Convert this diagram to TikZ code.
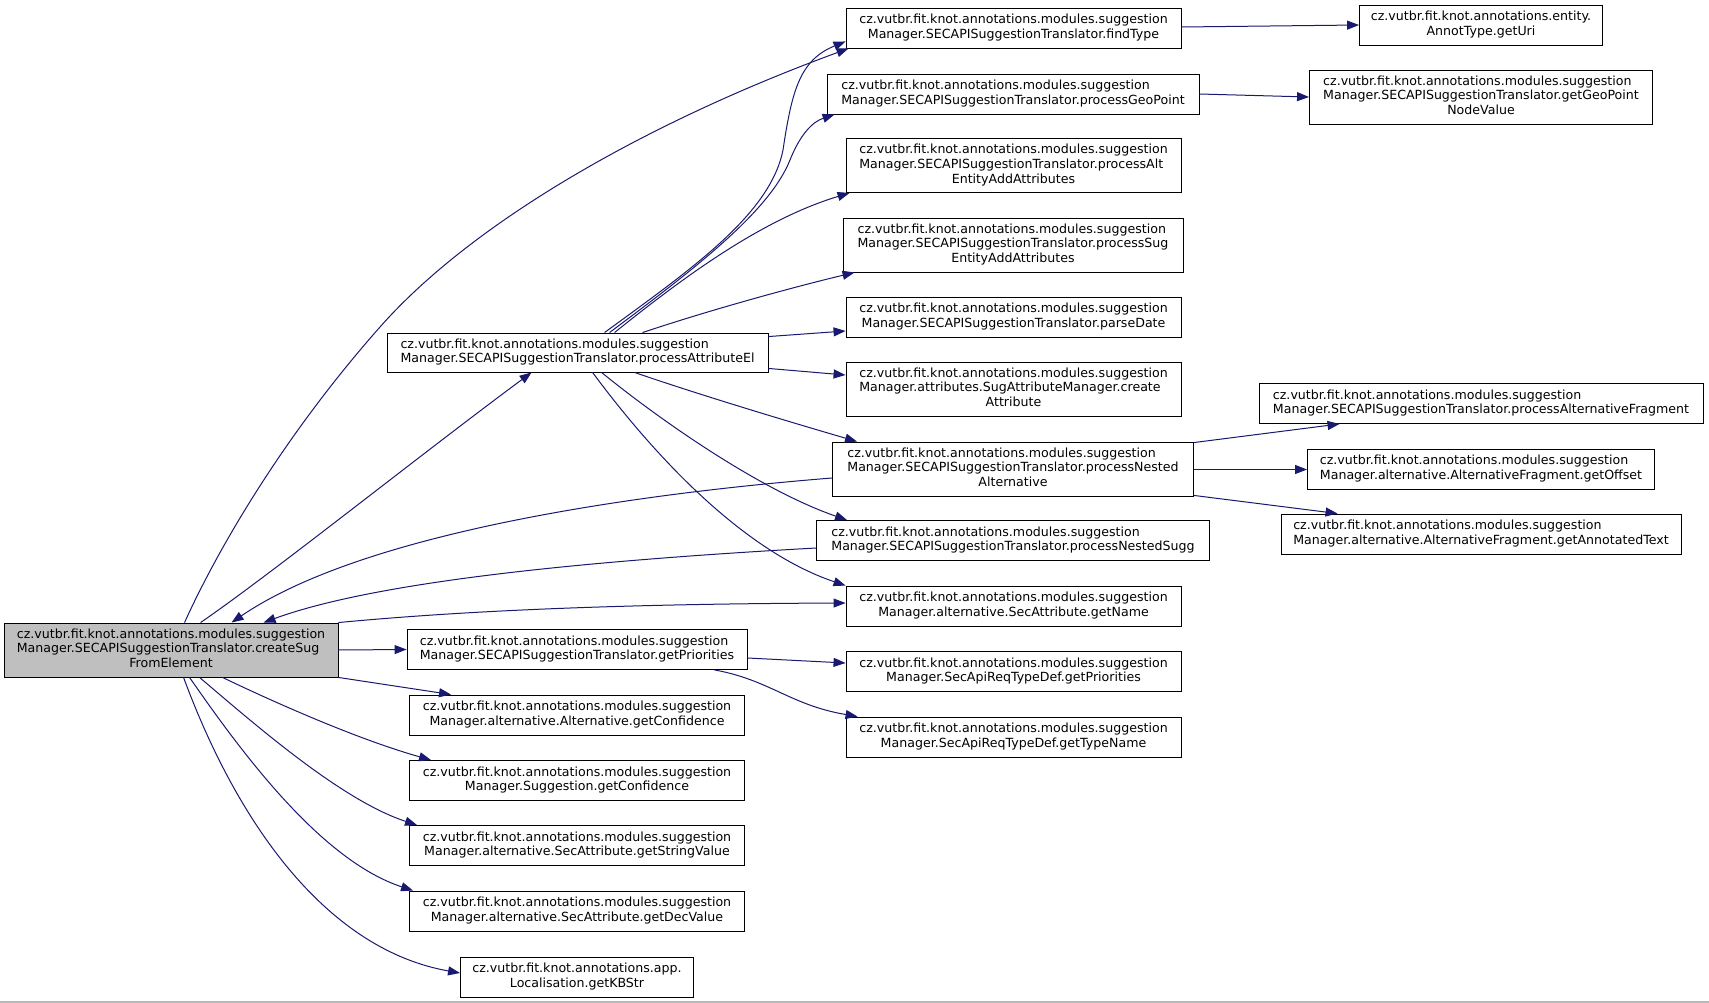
\documentclass[tikz,border=0pt]{standalone}
\usepackage{fontspec}
\setmainfont{DejaVu Sans}
\usetikzlibrary{arrows.meta,calc}
\definecolor{edgec}{HTML}{191970}
\definecolor{fillc}{HTML}{BFBFBF}
\newcommand\twol[2]{\begin{tabular}{@{}l@{}}#1\\\multicolumn{1}{@{}c@{}}{#2}\end{tabular}}
\newcommand\threel[3]{\begin{tabular}{@{}l@{}}#1\\#2\\\multicolumn{1}{@{}c@{}}{#3}\end{tabular}}
\newcommand\czs{cz.vutbr.fit.knot.annotations.modules.suggestion}
\tikzset{
  box/.style={draw=black, line width=0.9pt, fill=white, inner sep=0pt, text=black,
    font=\fontsize{12.6}{14.6}\selectfont},
  edge/.style={draw=edgec, line width=1pt, -{Triangle[length=12pt,width=9pt]}}
}
\begin{document}
\begin{tikzpicture}[x=1pt,y=-1pt]
\useasboundingbox (0,0) rectangle (1709,1003);
\fill[white] (0,0) rectangle (1709,1003);
\fill[gray!55] (0,1000.5) rectangle (1709,1003);

% column 1
\node[box, fill=fillc, minimum width=334pt, minimum height=54pt] (cs) at (171,650)
  {\threel{\czs}{Manager.SECAPISuggestionTranslator.createSug}{FromElement}};

% column 2
\node[box, minimum width=381pt, minimum height=39pt] (pae) at (577.5,352.5)
  {\twol{\czs}{Manager.SECAPISuggestionTranslator.processAttributeEl}};
\node[box, minimum width=340pt, minimum height=40pt] (gp) at (577,649.5)
  {\twol{\czs}{Manager.SECAPISuggestionTranslator.getPriorities}};
\node[box, minimum width=335pt, minimum height=40pt] (ac) at (577,715)
  {\twol{\czs}{Manager.alternative.Alternative.getConfidence}};
\node[box, minimum width=335pt, minimum height=40pt] (sc) at (577,780.5)
  {\twol{\czs}{Manager.Suggestion.getConfidence}};
\node[box, minimum width=335pt, minimum height=40pt] (sv) at (577,845.5)
  {\twol{\czs}{Manager.alternative.SecAttribute.getStringValue}};
\node[box, minimum width=335pt, minimum height=40pt] (dv) at (577,911)
  {\twol{\czs}{Manager.alternative.SecAttribute.getDecValue}};
\node[box, minimum width=233pt, minimum height=40pt] (kb) at (577,977)
  {\twol{cz.vutbr.fit.knot.annotations.app.}{Localisation.getKBStr}};

% column 3
\node[box, minimum width=335pt, minimum height=40pt] (ft) at (1013.5,28)
  {\twol{\czs}{Manager.SECAPISuggestionTranslator.findType}};
\node[box, minimum width=372pt, minimum height=40pt] (pg) at (1013,94)
  {\twol{\czs}{Manager.SECAPISuggestionTranslator.processGeoPoint}};
\node[box, minimum width=335pt, minimum height=54pt] (palt) at (1013.5,165.5)
  {\threel{\czs}{Manager.SECAPISuggestionTranslator.processAlt}{EntityAddAttributes}};
\node[box, minimum width=340pt, minimum height=54pt] (psug) at (1013,245)
  {\threel{\czs}{Manager.SECAPISuggestionTranslator.processSug}{EntityAddAttributes}};
\node[box, minimum width=335pt, minimum height=40pt] (pd) at (1013.5,317)
  {\twol{\czs}{Manager.SECAPISuggestionTranslator.parseDate}};
\node[box, minimum width=335pt, minimum height=54pt] (ca) at (1013.5,389)
  {\threel{\czs}{Manager.attributes.SugAttributeManager.create}{Attribute}};
\node[box, minimum width=361pt, minimum height=54pt] (pna) at (1013,469)
  {\threel{\czs}{Manager.SECAPISuggestionTranslator.processNested}{Alternative}};
\node[box, minimum width=393pt, minimum height=40pt] (pns) at (1013,540.5)
  {\twol{\czs}{Manager.SECAPISuggestionTranslator.processNestedSugg}};
\node[box, minimum width=335pt, minimum height=40pt] (gn) at (1013.5,606)
  {\twol{\czs}{Manager.alternative.SecAttribute.getName}};
\node[box, minimum width=335pt, minimum height=40pt] (sp) at (1013.5,671.5)
  {\twol{\czs}{Manager.SecApiReqTypeDef.getPriorities}};
\node[box, minimum width=335pt, minimum height=40pt] (tn) at (1013.5,737)
  {\twol{\czs}{Manager.SecApiReqTypeDef.getTypeName}};

% column 4
\node[box, minimum width=243pt, minimum height=40pt] (gu) at (1481,25)
  {\twol{cz.vutbr.fit.knot.annotations.entity.}{AnnotType.getUri}};
\node[box, minimum width=343pt, minimum height=54pt] (gv) at (1481,97)
  {\threel{\czs}{Manager.SECAPISuggestionTranslator.getGeoPoint}{NodeValue}};
\node[box, minimum width=444pt, minimum height=40pt] (paf) at (1481,403.5)
  {\twol{\czs}{Manager.SECAPISuggestionTranslator.processAlternativeFragment}};
\node[box, minimum width=347pt, minimum height=40pt] (go) at (1481,469)
  {\twol{\czs}{Manager.alternative.AlternativeFragment.getOffset}};
\node[box, minimum width=400pt, minimum height=40pt] (gat) at (1481,534)
  {\twol{\czs}{Manager.alternative.AlternativeFragment.getAnnotatedText}};

% edges from createSug
\draw[edge] ($(cs.north west)+(181,0)$) .. controls (215,555) and (280,440) .. (380,327)
  .. controls (470,225) and (640,125) .. ($(ft.south west)+(3,0)$);
\draw[edge] ($(cs.north west)+(197,0)$) .. controls (270,575) and (420,455) .. ($(pae.south west)+(145,0)$);
\draw[edge] (cs.north east) .. controls (450,612) and (600,604) .. ($(gn.west)+(0,-3)$);
\draw[edge] (cs.east) -- (gp.west);
\draw[edge] (cs.south east) -- ($(ac.north west)+(42,0)$);
\draw[edge] ($(cs.south west)+(219,0)$) .. controls (280,705) and (360,740) .. ($(sc.north west)+(22,0)$);
\draw[edge] ($(cs.south west)+(196,0)$) .. controls (250,720) and (340,800) .. ($(sv.north west)+(8,0)$);
\draw[edge] ($(cs.south west)+(186,0)$) .. controls (240,750) and (320,860) .. ($(dv.north west)+(4,0)$);
\draw[edge] ($(cs.south west)+(180,0)$) .. controls (240,830) and (330,950) .. ($(kb.west)+(0,-4)$);

% recursive edges back to createSug
\draw[edge] ($(pna.west)+(0,9)$) .. controls (620,495) and (360,535) .. ($(cs.north west)+(228,0)$);
\draw[edge] ($(pns.west)+(0,7.5)$) .. controls (600,560) and (380,580) .. ($(cs.north west)+(260,0)$);

% edges from processAttributeEl
\draw[edge] ($(pae.north west)+(218,0)$) .. controls (690,270) and (770,215) .. (783,150)
  .. controls (792,90) and (800,60) .. ($(ft.south west)+(0,-7)$);
\draw[edge] ($(pae.north west)+(223,0)$) .. controls (700,265) and (770,210) .. (790,160)
  .. controls (800,135) and (812,122) .. ($(pg.south west)+(8,0)$);
\draw[edge] ($(pae.north west)+(228,0)$) .. controls (680,280) and (760,220) .. ($(palt.south west)+(4,0)$);
\draw[edge] ($(pae.north west)+(256,0)$) .. controls (710,310) and (790,288) .. ($(psug.south west)+(12,0)$);
\draw[edge] ($(pae.north east)+(0,4)$) -- ($(pd.west)+(0,14)$);
\draw[edge] ($(pae.south east)+(0,-4)$) -- ($(ca.west)+(0,-14)$);
\draw[edge] ($(pae.south west)+(248,0)$) .. controls (700,395) and (790,422) .. ($(pna.north west)+(25,0)$);
\draw[edge] ($(pae.south west)+(215,0)$) .. controls (660,420) and (760,490) .. ($(pns.north west)+(31,0)$);
\draw[edge] ($(pae.south west)+(206,0)$) .. controls (650,450) and (740,550) .. (gn.north west);

% other edges
\draw[edge] ($(ft.east)+(0,-1)$) -- (gu.west);
\draw[edge] (pg.east) -- (gv.west);
\draw[edge] ($(gp.east)+(0,8.5)$) -- ($(sp.west)+(0,-8.5)$);
\draw[edge] ($(gp.south west)+(308,0)$) .. controls (770,680) and (790,705) .. ($(tn.north west)+(12,0)$);
\draw[edge] ($(pna.north east)+(0,1)$) -- ($(paf.south west)+(81,0)$);
\draw[edge] ($(pna.east)+(0,0.5)$) -- ($(go.west)+(0,0.5)$);
\draw[edge] ($(pna.south east)+(0,-1)$) -- ($(gat.north west)+(57,0)$);
\end{tikzpicture}
\end{document}
